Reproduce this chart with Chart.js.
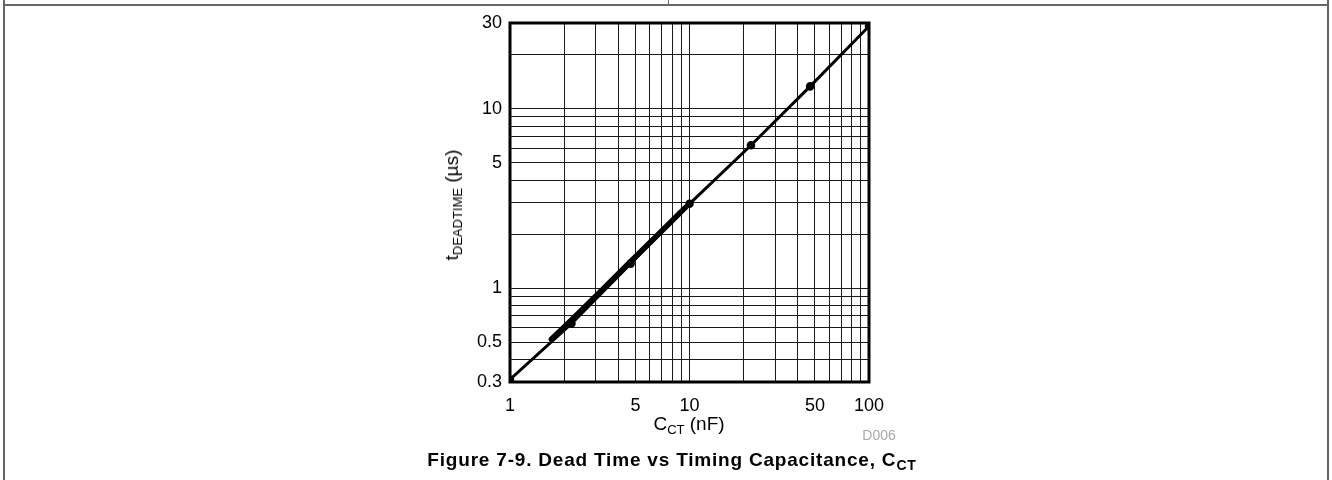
<!DOCTYPE html>
<html>
<head>
<meta charset="utf-8">
<script src="https://cdn.jsdelivr.net/npm/chart.js@4/dist/chart.umd.min.js"></script>
<style>
  html, body { margin: 0; padding: 0; background: #fff; }
  body { width: 1332px; height: 480px; position: relative; overflow: hidden;
         font-family: "Liberation Sans", Arial, sans-serif; color: #000; }
  #chart { position: absolute; left: 0; top: 0; }
  .rule { position: absolute; background: #666; }
  .txt { position: absolute; white-space: nowrap; line-height: 1; }
  .txt sub { font-size: 13px; vertical-align: -4px; }
  #ytitle { font-size: 19px; left: 453px; top: 205px; transform: translate(-50%, -50%) rotate(-90deg); }
  #xtitle { font-size: 19px; left: 689px; top: 425px; transform: translate(-50%, -50%); }
  #code { font-size: 14px; color: #aaa; left: 879px; top: 435px; transform: translate(-50%, -50%); }
  #caption { font-size: 19px; font-weight: bold; letter-spacing: 0.8px; left: 672px; top: 461px; transform: translate(-50%, -50%); }
  #caption sub { font-size: 14px; }
</style>
</head>
<body>
<div class="rule" style="left:3px;top:0;width:2px;height:480px"></div>
<div class="rule" style="left:1327px;top:0;width:2px;height:480px"></div>
<div class="rule" style="left:3px;top:4px;width:1326px;height:2px"></div>
<div class="rule" style="left:668px;top:0;width:1px;height:5px"></div>
<canvas id="chart" width="1332" height="480"></canvas>
<div class="txt" id="ytitle">t<sub>DEADTIME</sub> (µs)</div>
<div class="txt" id="xtitle">C<sub>CT</sub> (nF)</div>
<div class="txt" id="code">D006</div>
<div class="txt" id="caption">Figure 7-9. Dead Time vs Timing Capacitance, C<sub>CT</sub></div>
<script>
// timing capacitance (nF) and dead time (us)
const capNF = [1, 2.2, 4.7, 10, 22, 47, 100];
const deadUs = [0.31, 0.635, 1.37, 2.95, 6.25, 13.3, 28.8];
// overlapping traces that thicken the curve between ~1.7 and 10 nF
const capBand = [1.7, 2.2, 3.3, 4.7, 6.8, 9.5];
const deadBand = [0.52, 0.665, 0.99, 1.41, 2.02, 2.82];

const xGrid = [1, 2, 3, 4, 5, 6, 7, 8, 9, 10, 20, 30, 40, 50, 60, 70, 80, 90, 100];
const yGrid = [0.3, 0.4, 0.5, 0.6, 0.7, 0.8, 0.9, 1, 2, 3, 4, 5, 6, 7, 8, 9, 10, 20, 30];
const xLabels = [1, 5, 10, 50, 100];
const yLabels = [0.3, 0.5, 1, 5, 10, 30];

const frame = {
  id: 'frame',
  afterDatasetsDraw(chart) {
    const a = chart.chartArea, ctx = chart.ctx;
    ctx.save();
    ctx.strokeStyle = '#000';
    ctx.lineWidth = 3;
    ctx.strokeRect(a.left, a.top, a.right - a.left, a.bottom - a.top);
    ctx.restore();
  }
};

const tickFont = { family: '"Liberation Sans", Arial, sans-serif', size: 18 };

new Chart(document.getElementById('chart'), {
  type: 'line',
  data: {
    datasets: [
      {
        data: capNF.map((c, i) => ({ x: c, y: deadUs[i] })),
        borderColor: '#000', backgroundColor: '#000',
        borderWidth: 3, pointRadius: 2.8, tension: 0
      },
      {
        data: capBand.map((c, i) => ({ x: c, y: deadBand[i] })),
        borderColor: '#000', borderWidth: 5.5, pointRadius: 0, tension: 0,
        borderCapStyle: 'round'
      }
    ]
  },
  options: {
    responsive: false,
    animation: false,
    layout: { padding: { top: 23, right: 463, left: 0, bottom: 0 } },
    plugins: { legend: { display: false }, tooltip: { enabled: false } },
    scales: {
      x: {
        type: 'logarithmic', min: 1, max: 100,
        afterBuildTicks: s => { s.ticks = xGrid.map(v => ({ value: v })); },
        afterFit: s => { s.height = 98; },
        grid: { color: '#1a1a1a', lineWidth: 1, drawTicks: false },
        border: { display: false },
        ticks: {
          autoSkip: false, maxRotation: 0, padding: 13, color: '#000', font: tickFont,
          callback: v => xLabels.includes(v) ? String(v) : ''
        }
      },
      y: {
        type: 'logarithmic', min: 0.3, max: 30,
        afterBuildTicks: s => { s.ticks = yGrid.map(v => ({ value: v })); },
        afterFit: s => { s.width = 510; },
        grid: { color: '#1a1a1a', lineWidth: 1, drawTicks: false },
        border: { display: false },
        ticks: {
          autoSkip: false, padding: 8, color: '#000', font: tickFont,
          callback: v => yLabels.includes(v) ? String(v) : ''
        }
      }
    }
  },
  plugins: [frame]
});
</script>
</body>
</html>
